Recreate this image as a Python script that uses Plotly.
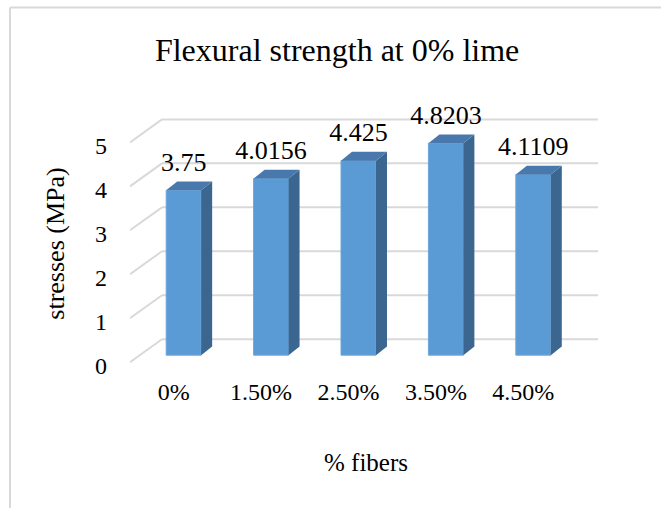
import plotly.graph_objects as go

# ---- data ----
categories = ["0%", "1.50%", "2.50%", "3.50%", "4.50%"]
values = [3.75, 4.0156, 4.425, 4.8203, 4.1109]
y_ticks = [0, 1, 2, 3, 4, 5]

title_text = "Flexural strength at 0% lime"
x_title = "% fibers"
y_title = "stresses (MPa)"

# ---- style / 3D geometry (in axis units) ----
FONT = "Liberation Serif"
FRONT = "#5B9BD5"
TOP = "#4878AC"
SIDE = "#3B6690"
GRID = "#D9D9D9"
BAR_W = 0.40
BX, BY = 0.114, 0.16      # offset of bar front face from floor front edge
DX, DY = 0.126, 0.20      # bar depth
WX, WY = 0.366, 0.523     # back wall offset
XMIN, XMAX = -0.5, 4.9
YMIN, YMAX = -0.2, 5.6
L, R, T, B = 130, 59, 116, 137
W, H = 661, 508

xs = list(range(len(categories)))
fig = go.Figure()

# front faces
fig.add_trace(go.Bar(
    x=[x + BX for x in xs], y=values, base=[BY] * len(values), width=BAR_W,
    marker=dict(color=FRONT, line=dict(color="#6CA6DA", width=1)),
    hoverinfo="skip", showlegend=False))

# side and top faces
for x, v in zip(xs, values):
    xl = x + BX - BAR_W / 2
    xr = x + BX + BAR_W / 2
    top = BY + v
    fig.add_trace(go.Scatter(
        x=[xr, xr + DX, xr + DX, xr, xr], y=[BY, BY + DY, top + DY, top, BY],
        fill="toself", fillcolor=SIDE, mode="lines", line=dict(width=0, color=SIDE),
        hoverinfo="skip", showlegend=False))
    fig.add_trace(go.Scatter(
        x=[xl, xr, xr + DX, xl + DX, xl], y=[top, top, top + DY, top + DY, top],
        fill="toself", fillcolor=TOP, mode="lines", line=dict(width=0, color=TOP),
        hoverinfo="skip", showlegend=False))

# data labels
fig.add_trace(go.Scatter(
    x=[x + BX for x in xs], y=[v + BY + 0.59 for v in values],
    text=[str(v) for v in values], mode="text", textposition="middle center",
    textfont=dict(family=FONT, size=26, color="black"), cliponaxis=False,
    hoverinfo="skip", showlegend=False))

# gridlines (back wall + left wall diagonals)
shapes = []
for t in y_ticks:
    shapes.append(dict(type="line", xref="x", yref="y", layer="below",
                       x0=XMIN + WX, y0=t + WY, x1=XMAX - 0.046, y1=t + WY,
                       line=dict(color=GRID, width=2)))
    shapes.append(dict(type="line", xref="x", yref="y", layer="below",
                       x0=XMIN, y0=t, x1=XMIN + WX, y1=t + WY,
                       line=dict(color=GRID, width=2)))

# chart border (top and left edges visible)
pw, ph = W - L - R, H - T - B
def px_x(p):
    return (p - L) / pw
def px_y(p):
    return (H - B - p) / ph
shapes.append(dict(type="line", xref="paper", yref="paper",
                   x0=px_x(10), y0=px_y(7.5), x1=px_x(W + 5), y1=px_y(7.5),
                   line=dict(color="#D9D9D9", width=2)))
shapes.append(dict(type="line", xref="paper", yref="paper",
                   x0=px_x(10), y0=px_y(7.5), x1=px_x(10), y1=px_y(H + 5),
                   line=dict(color="#D9D9D9", width=2)))

fig.update_layout(
    width=W, height=H, autosize=False,
    margin=dict(l=L, r=R, t=T, b=B),
    paper_bgcolor="white", plot_bgcolor="white",
    font=dict(family=FONT, color="black"),
    title=dict(text=title_text, x=0.51, xanchor="center", y=1 - 50 / H, yanchor="middle",
               font=dict(family=FONT, size=32, color="black")),
    shapes=shapes,
    xaxis=dict(range=[XMIN, XMAX], tickmode="array", tickvals=xs, ticktext=categories,
               showgrid=False, zeroline=False, showline=False, ticks="",
               ticklabelstandoff=4,
               tickfont=dict(family=FONT, size=24, color="black"),
               title=dict(text=x_title, standoff=49, font=dict(family=FONT, size=25, color="black"))),
    yaxis=dict(range=[YMIN, YMAX], tickmode="array", tickvals=[t - 0.07 for t in y_ticks],
               ticktext=[str(t) for t in y_ticks],
               showgrid=False, zeroline=False, showline=False, ticks="",
               ticklabelstandoff=22,
               tickfont=dict(family=FONT, size=24, color="black"),
               title=dict(text=y_title, standoff=22, font=dict(family=FONT, size=26, color="black"))),
)

fig.write_html("out.html")
